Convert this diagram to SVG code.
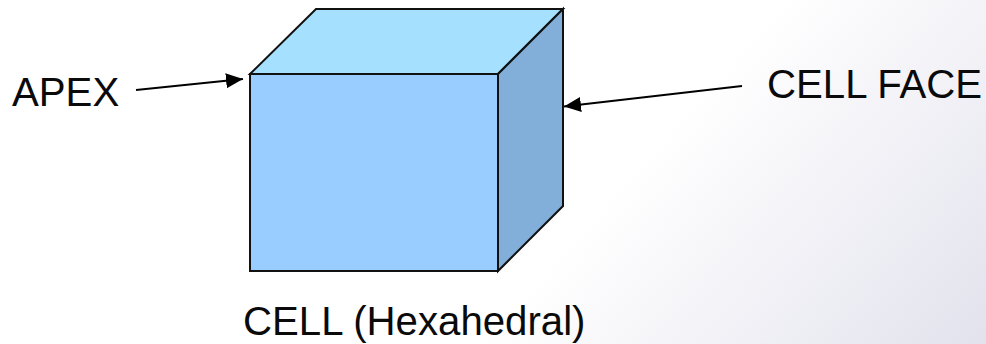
<svg xmlns="http://www.w3.org/2000/svg" width="986" height="344" viewBox="0 0 986 344">
<style>
.t{font-family:"Liberation Sans",Arial,sans-serif;font-size:40.2px;fill:#0a0a0a}
.f{stroke:#111;stroke-width:2;stroke-linejoin:miter}
.c{stroke:#000;stroke-width:2;fill:none;marker-end:url(#a)}
</style>
<defs>
<linearGradient id="bg" gradientUnits="userSpaceOnUse" x1="700" y1="90" x2="986" y2="344">
<stop offset="0" stop-color="#fff"/>
<stop offset="1" stop-color="#e2e2ed"/>
</linearGradient>
<marker id="a" markerUnits="userSpaceOnUse" markerWidth="18" markerHeight="16" refX="17" refY="8" orient="auto">
<path d="M0 0.5L17 8L0 15.5Z" fill="#000"/>
</marker>
</defs>
<rect width="986" height="344" fill="url(#bg)"/>
<g id="cell">
<polygon class="f" points="250,74 316,9 563,9 498,74" fill="#a6e0ff"/>
<polygon class="f" points="498,74 563,9 563,206 498,271" fill="#82afd9"/>
<rect class="f" x="250" y="74" width="248" height="197" fill="#99ccff"/>
</g>
<g id="apex"><text class="t" x="12" y="106">APEX</text></g>
<g id="cell-face"><text class="t" x="767" y="98">CELL FACE</text></g>
<g id="cell-label"><text class="t" x="243" y="335">CELL (Hexahedral)</text></g>
<g id="connectors">
<line class="c" x1="136" y1="90" x2="243" y2="79"/>
<line class="c" x1="742" y1="86" x2="564" y2="106.5"/>
</g>
</svg>
